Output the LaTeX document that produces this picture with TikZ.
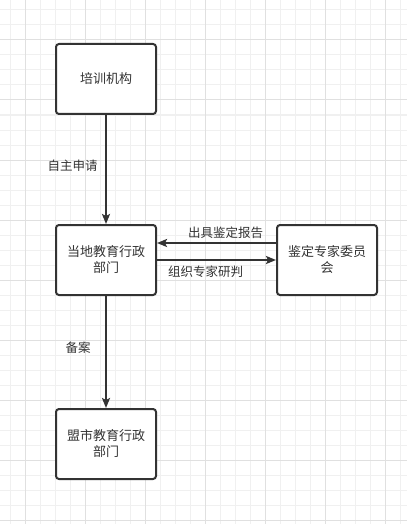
\documentclass[tikz,border=0pt]{standalone}
\usepackage{fontspec}
\usetikzlibrary{arrows.meta}
\newfontfamily\cjk{Noto Sans CJK SC}
\definecolor{gridminor}{RGB}{240, 240, 240}
\definecolor{gridmajor}{RGB}{224, 224, 224}
\definecolor{darkline}{RGB}{51, 51, 51}

\begin{document}
\begin{tikzpicture}[x=1pt, y=-1pt,
        box/.style={rectangle, rounded corners=3pt, draw=darkline, line width=2pt, fill=white, minimum width=100pt, minimum height=70pt, align=center, font=\cjk\fontsize{13}{16}\selectfont, text=darkline},
        flow/.style={-{Stealth[length=10pt, width=8pt, inset=2pt]}, line width=2pt, darkline},
        lbl/.style={font=\cjk\fontsize{12.5}{15}\selectfont, text=darkline}]
        \useasboundingbox (0,0) rectangle (407,524);
        \fill[white] (0,0) rectangle (407,524);

        % Grid
        \foreach \x in {10,25,...,400} \draw[gridminor, line width=1pt] (\x,0) -- (\x,524);
        \foreach \y in {10,25,...,520} \draw[gridminor, line width=1pt] (0,\y) -- (407,\y);
        \foreach \x in {25,85,...,400} \draw[gridmajor, line width=1pt] (\x,0) -- (\x,524);
        \foreach \y in {40,100,...,520} \draw[gridmajor, line width=1pt] (0,\y) -- (407,\y);

        % Boxes
        \node[box] (train) at (106,79) {培训机构};
        \node[box] (local) at (106,260) {当地教育行政\\部门};
        \node[box] (expert) at (327,260) {鉴定专家委员\\会};
        \node[box] (city) at (106,444) {盟市教育行政\\部门};

        % Arrows
        \draw[flow] (train) -- (local) node[lbl, pos=0.47, left=4pt] {自主申请};
        \draw[flow] (local) -- (city) node[lbl, pos=0.46, left=11pt] {备案};
        \draw[flow] (expert.west |- 0,243) -- (local.east |- 0,243) node[lbl, midway, above=0pt, xshift=9pt] {出具鉴定报告};
        \draw[flow] (local.east |- 0,260) -- (expert.west |- 0,260) node[lbl, midway, below=2pt, xshift=-11pt] {组织专家研判};
    \end{tikzpicture}
\end{document}
